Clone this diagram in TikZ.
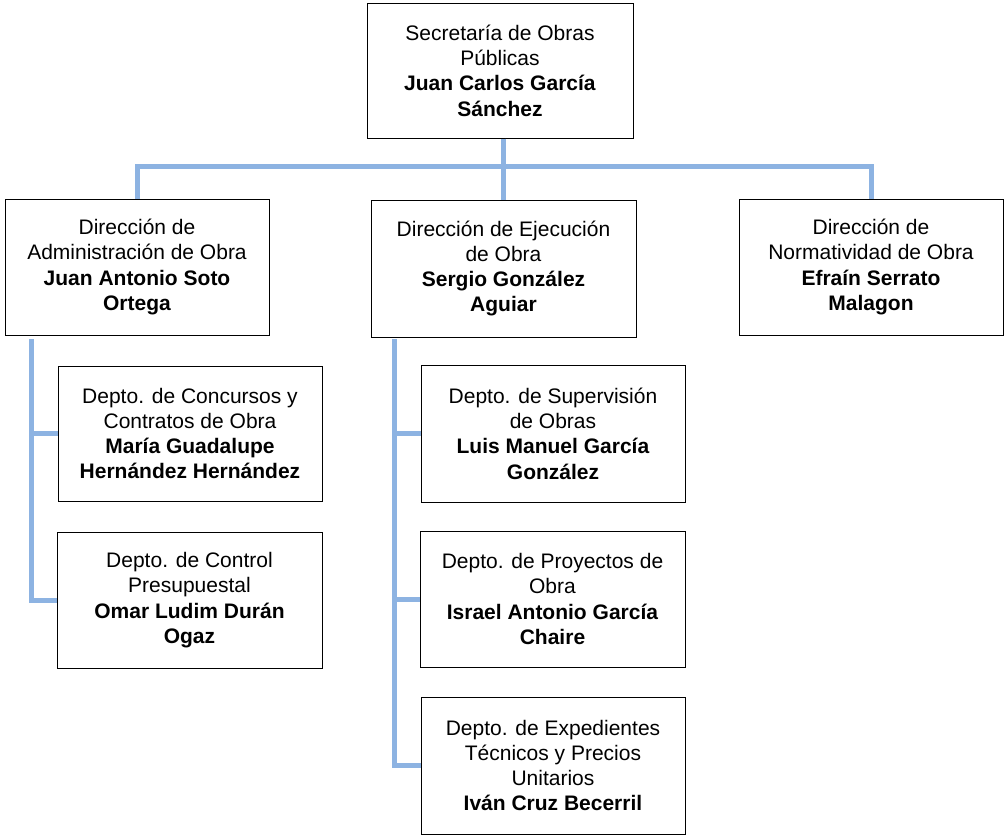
\documentclass[tikz,border=0pt]{standalone}
\usepackage{fontspec}
\setmainfont{Liberation Sans}
\definecolor{linkblue}{HTML}{8DB3E2}
\begin{document}
\begin{tikzpicture}[x=1pt,y=-1pt,
  box/.style={draw=black, line width=1pt, fill=white, align=center, inner sep=0pt,
    font=\fontsize{21}{25.3}\selectfont},
  link/.style={draw=linkblue, line width=5pt}]
\useasboundingbox (0,0) rectangle (1005,836);
% boxes
\node[box, minimum width=266pt, minimum height=135pt] (top) at (500,70.5)
  {Secretaría de Obras\\Públicas\\\textbf{Juan Carlos García}\\\textbf{Sánchez}};
\node[box, minimum width=264pt, minimum height=136pt] (left) at (137,267)
  {Dirección de\\Administración de Obra\\\textbf{Juan Antonio Soto}\\\textbf{Ortega}};
\node[box, minimum width=265pt, minimum height=137pt] (mid) at (503.5,268.5)
  {Dirección de Ejecución\\de Obra\\\textbf{Sergio González}\\\textbf{Aguiar}};
\node[box, minimum width=264pt, minimum height=136pt] (right) at (871,267)
  {Dirección de\\Normatividad de Obra\\\textbf{Efraín Serrato}\\\textbf{Malagon}};
\node[box, minimum width=264pt, minimum height=135pt] (l1) at (190,433.5)
  {Depto. de Concursos y\\Contratos de Obra\\\textbf{María Guadalupe}\\\textbf{Hernández Hernández}};
\node[box, minimum width=265pt, minimum height=136pt] (l2) at (189.5,600)
  {Depto. de Control\\Presupuestal\\\textbf{Omar Ludim Durán}\\\textbf{Ogaz}};
\node[box, minimum width=264pt, minimum height=137pt] (m1) at (553,433.5)
  {Depto. de Supervisión\\de Obras\\\textbf{Luis Manuel García}\\\textbf{González}};
\node[box, minimum width=265pt, minimum height=136pt] (m2) at (552.5,599)
  {Depto. de Proyectos de\\Obra\\\textbf{Israel Antonio García}\\\textbf{Chaire}};
\node[box, minimum width=264pt, minimum height=137pt] (m3) at (553,765.5)
  {Depto. de Expedientes\\Técnicos y Precios\\Unitarios\\\textbf{Iván Cruz Becerril}};
% connector helper coordinates
\coordinate (bus) at (0,166);
\coordinate (lspine) at (31,339);
\coordinate (mspine) at (394,339);
% connectors
\begin{scope}[on background layer/.style={}]
\draw[link] (mid.north |- top.south) -- (mid.north);
\draw[link] (left.north) -- (left.north |- bus) -- (right.north |- bus) -- (right.north);
\draw[link] (lspine) -- (lspine |- l2.west) -- (l2.west);
\draw[link] (lspine |- l1.west) -- (l1.west);
\draw[link] (mspine) -- (mspine |- m3.west) -- (m3.west);
\draw[link] (mspine |- m1.west) -- (m1.west);
\draw[link] (mspine |- m2.west) -- (m2.west);
\end{scope}
\end{tikzpicture}
\end{document}
